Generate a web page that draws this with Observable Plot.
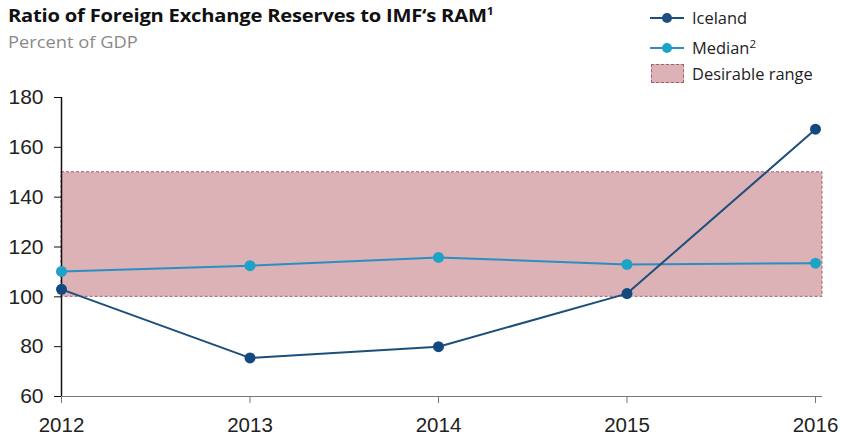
<!DOCTYPE html>
<html><head><meta charset="utf-8">
<script src="https://cdn.jsdelivr.net/npm/d3@7"></script>
<script src="https://cdn.jsdelivr.net/npm/@observablehq/plot@0.6"></script>
<style>
html,body{margin:0;padding:0;background:#fff;}
#wrap{position:relative;width:842px;height:440px;overflow:hidden;}
#title{position:absolute;left:8px;top:2px;font-family:"Open Sans",sans-serif;font-weight:700;font-size:18.5px;color:#111;letter-spacing:-0.2px;transform:scaleX(1.09);transform-origin:left top;white-space:nowrap;}
#title sup{font-size:11px;vertical-align:7px;}
#sub{position:absolute;left:8px;top:31px;font-family:"Open Sans",sans-serif;font-size:15.5px;color:#8a8a8a;transform:scaleX(1.18);transform-origin:left top;white-space:nowrap;}
.leg{position:absolute;left:650px;font-family:"Open Sans",sans-serif;font-size:15.5px;color:#222;display:flex;align-items:center;white-space:nowrap;}
.leg .t{display:inline-block;transform:scaleX(1.06);transform-origin:left center;}
.leg sup{font-size:11px;vertical-align:6px;}
.sym{width:34px;height:18px;position:relative;margin-right:8px;}
.sym .ln{position:absolute;left:0;right:0;top:8px;height:2px;}
.sym .dt{position:absolute;left:12px;top:4px;width:10px;height:10px;border-radius:50%;}
.sym .bx{position:absolute;left:1px;top:-1px;width:31px;height:17px;background:#dcb2b6;border:1px dashed #a0606c;}
svg{position:absolute;left:0;top:0;}
</style></head>
<body><div id="wrap">
<div id="title">Ratio of Foreign Exchange Reserves to IMF‘s RAM<sup>1</sup></div>
<div id="sub">Percent of GDP</div>
<div class="leg" style="top:7px"><div class="sym"><div class="ln" style="background:#1d4f7c"></div><div class="dt" style="background:#1d4f7c"></div></div><span class="t">Iceland</span></div>
<div class="leg" style="top:36px"><div class="sym"><div class="ln" style="background:#2a8fc0"></div><div class="dt" style="background:#1ca3c6"></div></div><span class="t">Median<sup>2</sup></span></div>
<div class="leg" style="top:63px"><div class="sym"><div class="bx"></div></div><span class="t">Desirable range</span></div>
</div>
<script>
const years = [2012, 2013, 2014, 2015, 2016];
const iceland = [103, 75.5, 80, 101.3, 167.3];
const median = [110.2, 112.5, 115.8, 113, 113.5];
const rangeLow = 100;
const rangeHigh = 150;
const yTicks = [60, 80, 100, 120, 140, 160, 180];

const iceData = years.map((y, i) => ({year: y, v: iceland[i]}));
const medData = years.map((y, i) => ({year: y, v: median[i]}));
const band = [{x1: years[0], x2: years[years.length - 1], y1: rangeLow, y2: rangeHigh}];

const chart = Plot.plot({
  width: 842, height: 440,
  marginLeft: 61, marginRight: 27, marginTop: 97, marginBottom: 44,
  style: {fontFamily: "Liberation Sans, Arial, sans-serif", fontSize: "21px", background: "transparent"},
  x: {domain: [years[0], years[years.length - 1]], ticks: years, tickFormat: d => String(d), label: null},
  y: {domain: [60, 180], ticks: yTicks, label: null},
  marks: [
    Plot.rect(band, {x1: "x1", x2: "x2", y1: "y1", y2: "y2", fill: "#dcb2b6", stroke: "#a0606c", strokeDasharray: "3,2", strokeWidth: 1, insetRight: -7}),
    Plot.axisX({ticks: years, tickFormat: d => String(d), tickSize: 7, tickPadding: 14, fontSize: 20.5, stroke: "#777", color: "#222"}),
    Plot.ruleY([60], {x1: years[0], x2: years[years.length - 1], stroke: "#777", strokeWidth: 1.2, insetRight: -7}),
    Plot.axisY({ticks: yTicks, tickSize: 7, tickPadding: 11, fontSize: 21, stroke: "#111", color: "#222"}),
    Plot.ruleX([years[0]], {y1: 60, y2: 180, stroke: "#111", strokeWidth: 1.5}),
    Plot.line(medData, {x: "year", y: "v", stroke: "#2a8fc0", strokeWidth: 2}),
    Plot.dot(medData, {x: "year", y: "v", r: 5.5, fill: "#1ca3c6"}),
    Plot.line(iceData, {x: "year", y: "v", stroke: "#1d4f7c", strokeWidth: 2}),
    Plot.dot(iceData, {x: "year", y: "v", r: 5.5, fill: "#124a80"})
  ]
});
document.getElementById("wrap").appendChild(chart);
</script>
</body></html>
